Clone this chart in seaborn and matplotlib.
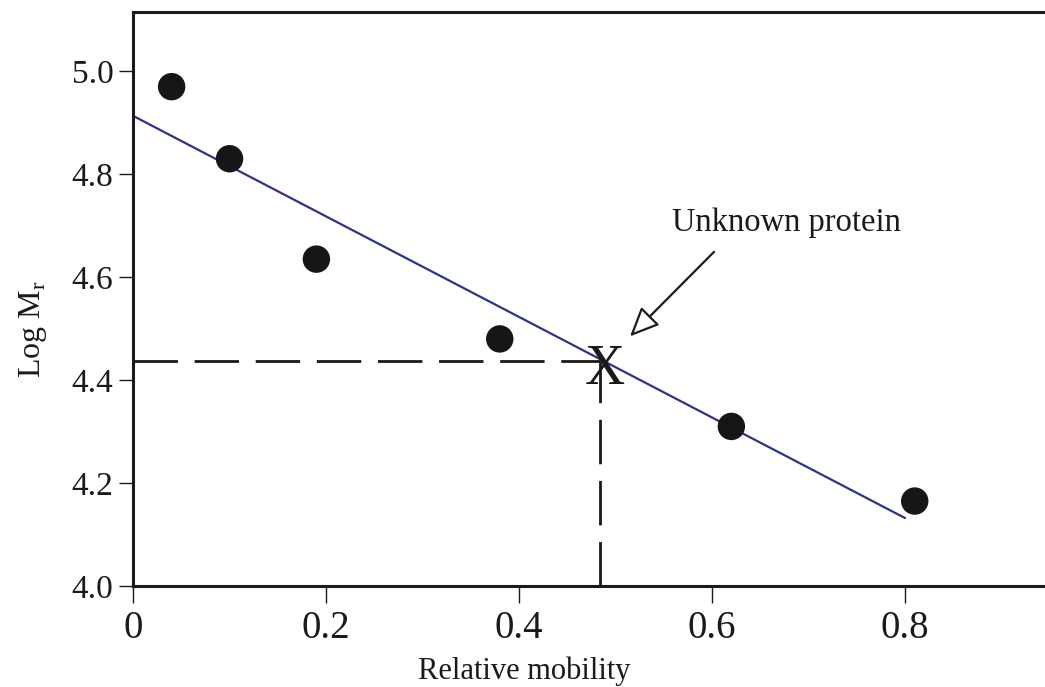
import matplotlib

matplotlib.use('Agg')
import matplotlib.pyplot as plt
import numpy as np
import seaborn as sns

# standards: relative mobility vs log Mr
mobility = [0.04, 0.10, 0.19, 0.38, 0.62, 0.81]
log_mr = [4.97, 4.83, 4.635, 4.48, 4.31, 4.165]

# unknown protein
unknown_x = 0.484
unknown_y = 4.437

x_ticks = [0, 0.2, 0.4, 0.6, 0.8]
x_ticklabels = ['0', '0.2', '0.4', '0.6', '0.8']
y_ticks = [4.0, 4.2, 4.4, 4.6, 4.8, 5.0]
y_ticklabels = ['4.0', '4.2', '4.4', '4.6', '4.8', '5.0']

sns.set_style('ticks')
plt.rcParams['font.family'] = ['Liberation Serif', 'DejaVu Serif']
plt.rcParams['mathtext.fontset'] = 'custom'
plt.rcParams['mathtext.rm'] = 'Liberation Serif'

fig = plt.figure(figsize=(10.45, 6.87), dpi=100)
ax = fig.add_axes([0.1273, 0.147, 0.8727, 0.8355])

# least squares line, drawn from 0 to 0.8
slope, icept = np.polyfit(mobility, log_mr, 1)
fit_x = np.array([0.0, 0.8])
sns.lineplot(x=fit_x, y=icept + slope * fit_x, color='#2e3192', lw=1.6, ax=ax)

sns.scatterplot(x=mobility, y=log_mr, s=390, color='#161616', edgecolor='none', ax=ax, zorder=5)

# dashed guides to the unknown
dash = (16, 6)
ax.plot([0, unknown_x], [unknown_y, unknown_y], color='#1a1a1a', lw=2, dashes=dash)
ax.plot([unknown_x, unknown_x], [4.0, unknown_y], color='#1a1a1a', lw=2, dashes=dash)
ax.text(unknown_x + 0.005, unknown_y - 0.018, 'X', fontsize=40, ha='center', va='center', color='#1a1a1a')

ax.annotate('', xy=(0.515, 4.485), xytext=(0.602, 4.649),
            arrowprops=dict(arrowstyle='-|>,head_length=0.9,head_width=0.4', mutation_scale=20,
                            fc='white', ec='#1a1a1a', lw=1.6, shrinkA=0, shrinkB=0))
ax.text(0.558, 4.705, 'Unknown protein', fontsize=23.5, ha='left', va='center', color='#1a1a1a')

ax.set_xlim(0, 0.945)
ax.set_ylim(4.0, 5.115)
ax.set_xticks(x_ticks)
ax.set_xticklabels(x_ticklabels)
ax.set_yticks(y_ticks)
ax.set_yticklabels(y_ticklabels)
ax.tick_params(axis='x', labelsize=28, length=12, width=1, colors='#1a1a1a', pad=5)
ax.tick_params(axis='y', labelsize=24, length=10, width=1, colors='#1a1a1a', pad=4)

ax.set_xlabel('Relative mobility', fontsize=22, color='#1a1a1a')
ax.set_ylabel(r'Log M$_\mathrm{r}$', fontsize=23, color='#1a1a1a')
ax.xaxis.set_label_coords(0.429, -0.122)
ax.yaxis.set_label_coords(-0.092, 0.448)

ax.spines['right'].set_visible(False)
for side in ['left', 'top', 'bottom']:
    ax.spines[side].set_linewidth(2.2)
    ax.spines[side].set_color('#1a1a1a')

plt.savefig('out.png', dpi=100)
plt.close()
